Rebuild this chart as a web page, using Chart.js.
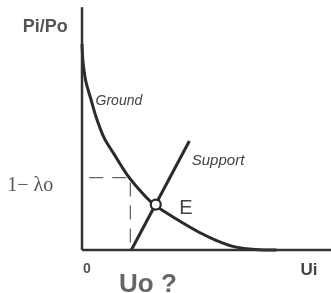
<!DOCTYPE html>
<html>
<head>
<meta charset="utf-8">
<script src="https://cdn.jsdelivr.net/npm/chart.js@4"></script>
<style>
  html,body{margin:0;padding:0;background:#fff;}
  #wrap{width:331px;height:293px;position:relative;}
</style>
</head>
<body>
<div id="wrap"><canvas id="c" width="331" height="293"></canvas></div>
<script>
// Ground reaction curve (Ui, Pi/Po)
const groundX = [0, 0.04, 0.16, 0.36, 0.6, 0.92, 1.32, 1.84, 2.4, 2.92, 3.52, 4.12, 4.84, 5.52, 6.2, 6.92, 7.52, 8.04];
const groundY = [8.49, 7.76, 6.94, 6.24, 5.43, 4.61, 3.96, 3.14, 2.45, 1.92, 1.51, 1.14, 0.73, 0.41, 0.16, 0.04, 0, 0];
// Support line (starts at Uo)
const supportX = [2.04, 4.44];
const supportY = [0, 4.49];
// Equilibrium point E
const eqX = [3.05];
const eqY = [1.87];
// Uo and 1 - lambda0 guide values
const uo = 2.0;
const lambdaLevel = 2.98;
// Axis extents
const xMax = 10;
const yMax = 10;

const pts = (xs, ys) => xs.map((x, i) => ({x, y: ys[i]}));

const labels = [
  {text: 'Pi/Po', x: -2.45, y: 8.98, font: 'bold 18px "Liberation Sans", Arial, sans-serif', color: '#555'},
  {text: 'Ground', x: 0.56, y: 5.96, font: 'italic 14px "Liberation Sans", Arial, sans-serif', color: '#444'},
  {text: 'Support', x: 4.54, y: 3.51, font: 'italic 15px "Liberation Sans", Arial, sans-serif', color: '#444'},
  {text: 'E', x: 4.02, y: 1.47, font: '20px "Liberation Sans", Arial, sans-serif', color: '#444'},
  {text: '1\u2212 \u03BBo', x: -3.09, y: 2.45, font: '20px "Liberation Serif", "Times New Roman", serif', color: '#555'},
  {text: '0', x: 0.04, y: -0.94, font: 'bold 14px "Liberation Sans", Arial, sans-serif', color: '#555'},
  {text: 'Uo ?', x: 1.53, y: -1.71, font: 'bold 26px "Liberation Sans", Arial, sans-serif', color: '#666'},
  {text: 'Ui', x: 9.04, y: -1.02, font: 'bold 17px "Liberation Sans", Arial, sans-serif', color: '#444'}
];

const textPlugin = {
  id: 'textLabels',
  afterDatasetsDraw(chart) {
    const {ctx, scales} = chart;
    ctx.save();
    ctx.textAlign = 'left';
    ctx.textBaseline = 'alphabetic';
    labels.forEach(l => {
      ctx.font = l.font;
      ctx.fillStyle = l.color;
      ctx.fillText(l.text, scales.x.getPixelForValue(l.x), scales.y.getPixelForValue(l.y));
    });
    ctx.restore();
  }
};

const lineDs = (data, extra) => Object.assign({
  data, showLine: true, pointRadius: 0, borderColor: '#2a2a2a', borderWidth: 3,
  fill: false, clip: false, order: 1
}, extra);

new Chart(document.getElementById('c'), {
  type: 'scatter',
  data: {
    datasets: [
      lineDs([{x: 0, y: 0}, {x: 0, y: yMax}], {borderWidth: 2.5, borderColor: '#333'}),
      lineDs([{x: 0, y: 0}, {x: xMax + 0.5, y: 0}], {borderWidth: 2.5, borderColor: '#333'}),
      lineDs([{x: 0.3, y: lambdaLevel}, {x: uo, y: lambdaLevel}, {x: uo, y: 0}], {borderWidth: 1.3, borderColor: '#666', borderDash: [14, 9]}),
      lineDs(pts(groundX, groundY), {tension: 0.3, borderWidth: 3}),
      lineDs(pts(supportX, supportY), {borderWidth: 3}),
      {data: pts(eqX, eqY), pointRadius: 5, pointBackgroundColor: '#fff', pointBorderColor: '#2a2a2a', pointBorderWidth: 2.2, showLine: false, clip: false, order: 0}
    ]
  },
  options: {
    responsive: false,
    animation: false,
    devicePixelRatio: 1,
    layout: {padding: {left: 82, right: 0, top: 5, bottom: 43}},
    plugins: {legend: {display: false}, tooltip: {enabled: false}},
    scales: {
      x: {type: 'linear', min: 0, max: xMax, display: false},
      y: {type: 'linear', min: 0, max: yMax, display: false}
    }
  },
  plugins: [textPlugin]
});
</script>
</body>
</html>
